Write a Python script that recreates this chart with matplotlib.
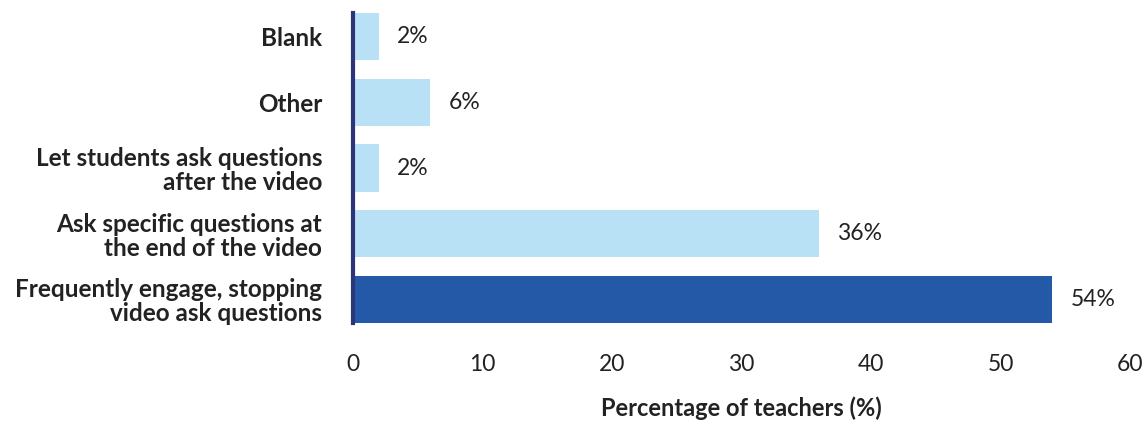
import matplotlib.pyplot as plt

plt.rcParams['font.family'] = ['Lato', 'DejaVu Sans']

# survey responses, top to bottom
categories = [
    "Blank",
    "Other",
    "Let students ask questions\nafter the video",
    "Ask specific questions at\nthe end of the video",
    "Frequently engage, stopping\nvideo ask questions",
]
percent = [2, 6, 2, 36, 54]
xticks = [0, 10, 20, 30, 40, 50, 60]

light = "#b9e1f5"
dark = "#2359a6"
text_col = "#222222"

fig = plt.figure(figsize=(11.47, 4.28), dpi=100)
ax = fig.add_axes([0.3075, 0.2453, 0.9852 - 0.3075, 0.9696 - 0.2453])

ypos = list(range(len(categories)))[::-1]
colors = [light] * 4 + [dark]
ax.barh(ypos, percent, height=0.72, color=colors)

for y, v in zip(ypos, percent):
    ax.annotate(f"{v}%", (v, y), xytext=(13, 0), textcoords="offset points",
                va="center", ha="left", fontsize=16.5, color=text_col)

ax.set_xlim(0, 60)
ax.set_ylim(-0.36, 4.36)
ax.set_xticks(xticks)
ax.set_yticks(ypos)
ax.set_yticklabels(categories, fontsize=17.5, fontweight="bold", color=text_col,
                   linespacing=1.05)
ax.tick_params(axis="x", length=0, pad=22, labelsize=16.5, labelcolor=text_col)
ax.tick_params(axis="y", length=0, pad=22)

for s in ["top", "right", "bottom"]:
    ax.spines[s].set_visible(False)
ax.spines["left"].set_color("#2b3578")
ax.spines["left"].set_linewidth(3)

ax.set_xlabel("Percentage of teachers (%)", fontsize=17, fontweight="bold",
              color=text_col, labelpad=16)

fig.savefig("out.png", dpi=100)
